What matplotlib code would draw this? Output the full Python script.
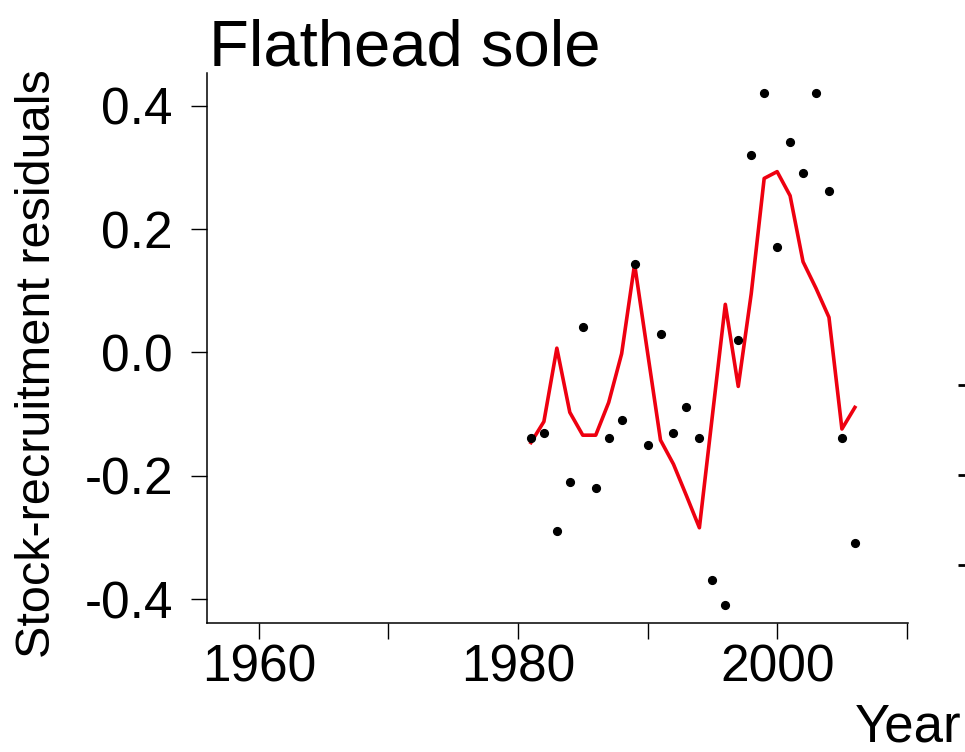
import matplotlib
matplotlib.use("Agg")
import matplotlib.pyplot as plt

# stock-recruitment residuals, Flathead sole
years = [1981, 1982, 1983, 1984, 1985, 1986, 1987, 1988, 1989, 1990,
         1991, 1992, 1993, 1994, 1995, 1996, 1997, 1998, 1999, 2000,
         2001, 2002, 2003, 2004, 2005, 2006]
residuals = [-0.139, -0.130, -0.289, -0.210, 0.041, -0.220, -0.139, -0.109, 0.143, -0.150,
             0.030, -0.130, -0.089, -0.139, -0.369, -0.409, 0.021, 0.320, 0.421, 0.171,
             0.341, 0.291, 0.421, 0.261, -0.139, -0.309]
# smoothed trend (red line)
trend = [-0.146, -0.112, 0.007, -0.097, -0.134, -0.134, -0.081, -0.002, 0.143, 0.000,
         -0.142, -0.181, -0.232, -0.284, -0.103, 0.078, -0.055, 0.095, 0.282, 0.293,
         0.254, 0.147, 0.104, 0.057, -0.124, -0.089]

xticks = [1960, 1970, 1980, 1990, 2000, 2010]
xticklabels = ["1960", "", "1980", "", "2000", ""]
yticks = [-0.4, -0.2, 0.0, 0.2, 0.4]
yticklabels = ["-0.4", "-0.2", "0.0", "0.2", "0.4"]

plt.rcParams['font.family'] = ['Liberation Sans', 'DejaVu Sans']

fig = plt.figure(figsize=(9.65, 7.52), dpi=100)
ax = fig.add_axes([207 / 965, 1 - 623 / 752, 701 / 965, 550 / 752])

ax.plot(years, trend, color='#ee0010', lw=2.6, zorder=2)
ax.plot(years, residuals, 'o', color='black', ms=5.6, zorder=3)

ax.set_xlim(1956, 2010.1)
ax.set_ylim(-0.4383, 0.4528)
ax.set_xticks(xticks)
ax.set_xticklabels(xticklabels)
ax.set_yticks(yticks)
ax.set_yticklabels(yticklabels)

for s in ['top', 'right']:
    ax.spines[s].set_visible(False)
for s in ['left', 'bottom']:
    ax.spines[s].set_linewidth(1.1)

ax.tick_params(axis='both', direction='out', length=11.5, width=1.0, labelsize=37)
ax.tick_params(axis='y', pad=13)
ax.tick_params(axis='x', pad=3)

fig.text(209 / 965, 1 - 65 / 752, "Flathead sole", fontsize=47, ha='left', va='baseline')
fig.text(38 / 965, 1 - 364 / 752, "Stock-recruitment residuals", fontsize=35,
         rotation=90, ha='center', va='center')
fig.text(855 / 965, 1 - 742 / 752, "Year", fontsize=38, ha='left', va='baseline')

# edge of the neighbouring panel (only its y ticks show)
ax2 = fig.add_axes([972 / 965, 1 - 600 / 752, 0.2, 300 / 752])
ax2.set_ylim(0, 300)
ax2.set_yticks([35, 125, 215])
ax2.set_yticklabels(["", "", ""])
ax2.set_xticks([])
for s in ax2.spines.values():
    s.set_visible(False)
ax2.tick_params(axis='y', direction='out', length=10, width=2.0)

fig.savefig("out.png", dpi=100)
